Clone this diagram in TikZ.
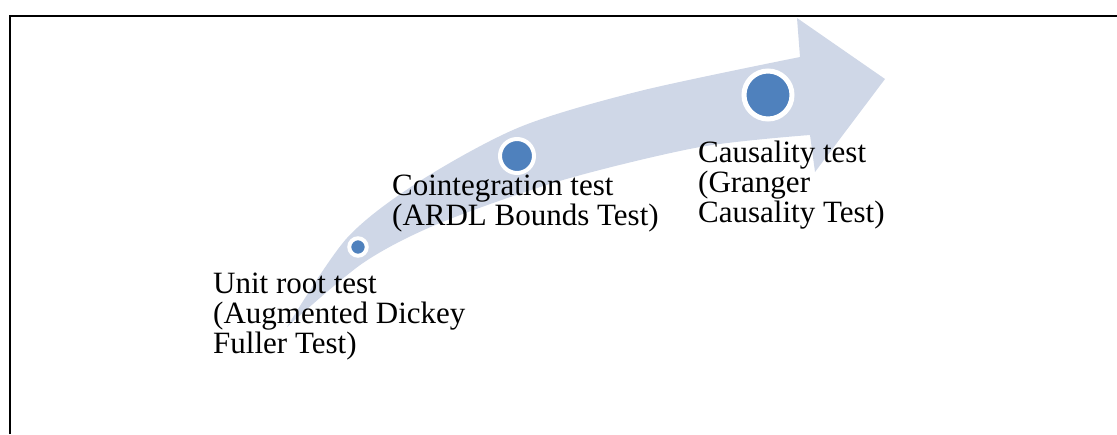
\documentclass[tikz,border=0pt]{standalone}
\usepackage{fontspec}
\setmainfont{Liberation Serif}
\definecolor{bandblue}{HTML}{CFD7E7}
\definecolor{dotblue}{HTML}{4F81BD}
\begin{document}
\begin{tikzpicture}[x=1pt,y=-1pt,
  milestone/.style={circle, fill=dotblue, draw=white, inner sep=0pt},
  steplabel/.style={anchor=base west, align=left, inner sep=0pt,
    font=\fontsize{31}{30}\selectfont}]
\useasboundingbox (0,0) rectangle (1117,434);
% frame (top and left sides only)
\draw[line width=2.4pt] (10,434) -- (10,15.7) -- (1117,15.7);
% rising curved arrow
\fill[bandblue]
  plot[smooth] coordinates {(287,327) (347,238) (420,181) (520,127) (640,91) (800,57)}
  -- (797,18) -- (885,79) -- (815,172) -- (810,135)
  -- plot[smooth] coordinates {(810,135) (700,147) (563,180) (440,223) (363,263) (287,327)}
  -- cycle;
% milestones along the arrow
\node[milestone, minimum size=17.5pt, line width=4pt] (dot1) at (358,247) {};
\node[milestone, minimum size=34pt, line width=4pt] (dot2) at (517,156) {};
\node[milestone, minimum size=48pt, line width=5pt] (dot3) at (768,95) {};
% stage labels (anchored on the baseline of their last line)
\node[steplabel] (unitroot) at (213,353) {Unit root test\\(Augmented Dickey\\Fuller Test)};
\node[steplabel] (coint) at (392,225) {Cointegration test\\(ARDL Bounds Test)};
\node[steplabel] (causal) at (698,222) {Causality test\\(Granger\\Causality Test)};
\end{tikzpicture}
\end{document}
